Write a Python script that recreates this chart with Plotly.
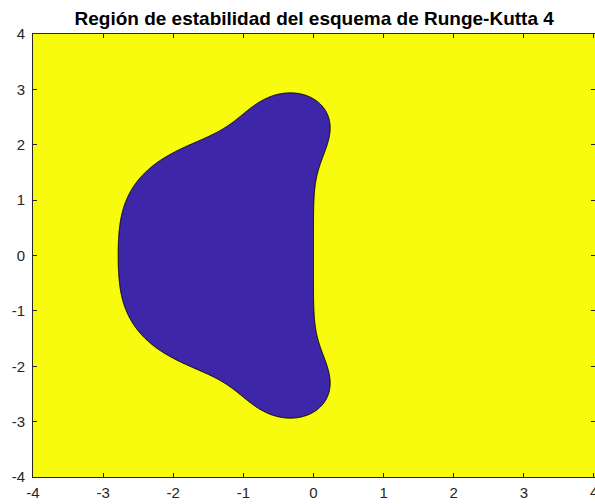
import numpy as np
import plotly.graph_objects as go

# RK4 stability polynomial coefficients: R(z) = 1 + z + z^2/2 + z^3/6 + z^4/24
rk4_coeffs = [1.0, 1.0, 1.0 / 2, 1.0 / 6, 1.0 / 24]
x_vals = np.linspace(-4, 4.05, 806)
y_vals = np.linspace(-4, 4, 801)
tick_vals = [-4, -3, -2, -1, 0, 1, 2, 3, 4]
tick_text = ["-4", "-3", "-2", "-1", "0", "1", "2", "3", "4"]
title_text = "Región de estabilidad del esquema de Runge-Kutta 4"

X, Y = np.meshgrid(x_vals, y_vals)
Z = X + 1j * Y
R = np.zeros_like(Z)
for k, c in enumerate(rk4_coeffs):
    R = R + c * Z ** k
absR = np.minimum(np.abs(R), 1.5)

blue = "#3E26A8"
yellow = "#F9FB0E"
tick_font = dict(family="Liberation Sans, Arial, sans-serif", size=15, color="#262626")

fig = go.Figure(go.Contour(
    x=x_vals, y=y_vals, z=absR,
    zmin=0, zmax=2,
    colorscale=[[0, blue], [0.5, blue], [0.5, yellow], [1, yellow]],
    autocontour=False,
    contours=dict(start=1, end=1, size=1, coloring="fill"),
    line=dict(color="black", width=1, smoothing=1),
    showscale=False,
    hoverinfo="skip",
))

axis_common = dict(
    tickvals=tick_vals, ticktext=tick_text, ticks="inside", ticklen=4,
    tickcolor="#262626", linecolor="#262626", linewidth=1, mirror="ticks",
    showgrid=False, zeroline=False, automargin=False,
    tickfont=tick_font,
)

fig.update_layout(
    width=595, height=504,
    margin=dict(l=33, r=0, t=34, b=27),
    paper_bgcolor="white", plot_bgcolor=yellow,
    title=dict(text="<b>" + title_text + "</b>", x=0.528, xanchor="center",
               y=1 - 18 / 504, yanchor="middle", automargin=False,
               font=dict(family="Liberation Sans, Arial, sans-serif", size=19, color="black")),
    xaxis=dict(**axis_common, range=[-4, 4.015], ticklabelstandoff=2),
    yaxis=dict(**axis_common, range=[-4, 4], ticklabelstandoff=4),
)

# last x tick label sits on the right edge of the window (partly cut off, as in the reference)
fig.add_annotation(x=tick_vals[-1], xref="x", y=0, yref="paper", yanchor="top",
                   xanchor="center", yshift=-4, text=tick_text[-1], showarrow=False,
                   font=tick_font)

fig.write_html(
    "out.html",
    config={"displayModeBar": False},
    post_script="document.body.style.margin='0px';document.body.style.overflow='hidden';",
)
